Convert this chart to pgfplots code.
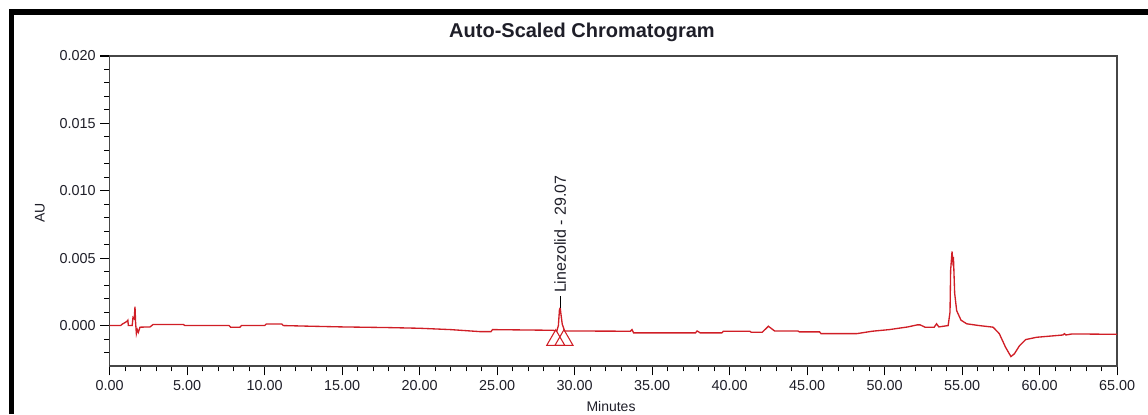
\documentclass[border=0pt]{standalone}
\usepackage{fontspec}
\setmainfont{Liberation Sans}
\usepackage{pgfplots}
\pgfplotsset{compat=1.18}
\definecolor{trace}{RGB}{208,30,38}
\definecolor{axgray}{RGB}{70,70,70}
\definecolor{txt}{RGB}{30,30,40}

\begin{document}
\begin{tikzpicture}
\path[use as bounding box] (0,0) rectangle (861pt,310.5pt);
\draw[line width=4.3pt, line join=miter] (8.6pt,0) -- (8.6pt,301.5pt) -- (861pt,301.5pt);
\node[font=\fontsize{15}{18}\bfseries, text=txt] at (436.5pt,286.5pt) {Auto-Scaled Chromatogram};
\node[font=\fontsize{10.5}{12}\selectfont, text=txt, rotate=90] at (30pt,150.75pt) {AU};
\node[font=\fontsize{10.5}{12}\selectfont, text=txt] at (458.25pt,6pt) {Minutes};
\begin{axis}[
  at={(82.3pt,36pt)}, anchor=south west,
  scale only axis, width=755.5pt, height=232.5pt,
  xmin=0, xmax=65, ymin=-0.003, ymax=0.020,
  xtick={0,5,...,65}, minor x tick num=4,
  ytick={0,0.005,0.010,0.015,0.020},
  minor ytick={-0.002,-0.001,0.001,0.002,0.003,0.004,0.006,0.007,0.008,0.009,0.011,0.012,0.013,0.014,0.016,0.017,0.018,0.019},
  scaled y ticks=false, scaled x ticks=false,
  tick align=outside, xtick pos=bottom, ytick pos=left,
  major tick length=7pt, minor tick length=4pt,
  axis line style={axgray, line width=0.9pt},
  every tick/.style={black, line width=0.8pt},
  tick label style={font=\fontsize{10.8}{12}\selectfont, text=txt},
  /pgf/number format/assume math mode=true,
  xticklabel style={/pgf/number format/.cd, fixed, fixed zerofill, precision=2},
  yticklabel style={/pgf/number format/.cd, fixed, fixed zerofill, precision=3},
  clip=false,
]
\addplot[trace, line width=1.0pt] coordinates {
(0,0) (0.7,0) (0.8,0.0001) (1.1,0.0003) (1.17,0.0004) (1.2,0.0) (1.45,0.0)
(1.5,0.0006) (1.58,0.0005) (1.63,0.0014) (1.67,0.0002) (1.72,-0.0006) (1.78,-0.0003)
(1.85,-0.0005) (1.95,-0.00012) (2.6,-0.0001) (2.8,0.00008) (4.75,0.00008) (4.85,0.0)
(7.7,0.0) (7.8,-0.00012) (8.4,-0.00012) (8.5,0.0) (10.0,0.0) (10.1,0.00012)
(11.1,0.00012) (11.2,0.0) (13.0,-0.00005) (15.0,-0.0001) (18.0,-0.00015)
(20.0,-0.0002) (22.0,-0.0003) (23.9,-0.00045) (24.6,-0.00045) (24.7,-0.0003)
(28.6,-0.00035) (28.85,-0.0004) (28.95,0.0) (29.02,0.0012) (29.07,0.0013)
(29.12,0.0008) (29.2,0.0001) (29.35,-0.0004) (33.6,-0.00042) (33.7,-0.0003)
(33.8,-0.00054) (37.8,-0.00054) (37.9,-0.0004) (38.1,-0.00054) (39.5,-0.00054)
(39.6,-0.00042) (41.3,-0.00042) (41.4,-0.0005) (42.1,-0.0005) (42.5,-0.00005)
(42.9,-0.0004) (44.4,-0.0004) (44.5,-0.00047) (45.8,-0.00047) (45.9,-0.0006)
(48.2,-0.0006) (49.2,-0.00042) (50.3,-0.0003) (51.5,-0.0001) (52.1,0.00005)
(52.3,0.00005) (52.6,-0.00012) (53.2,-0.00012) (53.35,0.00013) (53.5,-0.0001)
(54.1,0.0) (54.22,0.001) (54.26,0.0041) (54.35,0.0055) (54.4,0.0048)
(54.44,0.0051) (54.52,0.0024) (54.65,0.0011) (54.93,0.0004) (55.3,0.00013)
(56.1,0.0) (57.0,-0.00012) (57.4,-0.0006) (57.8,-0.0016) (58.15,-0.0023)
(58.37,-0.0021) (58.7,-0.0015) (59.1,-0.00104) (59.8,-0.00087) (60.8,-0.00077)
(61.5,-0.0007) (61.6,-0.0006) (61.7,-0.0007) (62.1,-0.00062) (65,-0.00065)
};
\addplot[trace, only marks, mark=triangle, mark size=7.8pt, mark options={line width=0.8pt}] coordinates {
(28.78,-0.00108) (29.31,-0.00108)
};
\draw[black, line width=0.8pt] (axis cs:29.07,0.0013) -- (axis cs:29.07,0.0022);
\node[rotate=90, anchor=west, font=\fontsize{12}{14}\selectfont, text=txt, inner sep=1pt] at (axis cs:29.07,0.0023) {Linezolid - 29.07};
\end{axis}
\end{tikzpicture}
\end{document}
